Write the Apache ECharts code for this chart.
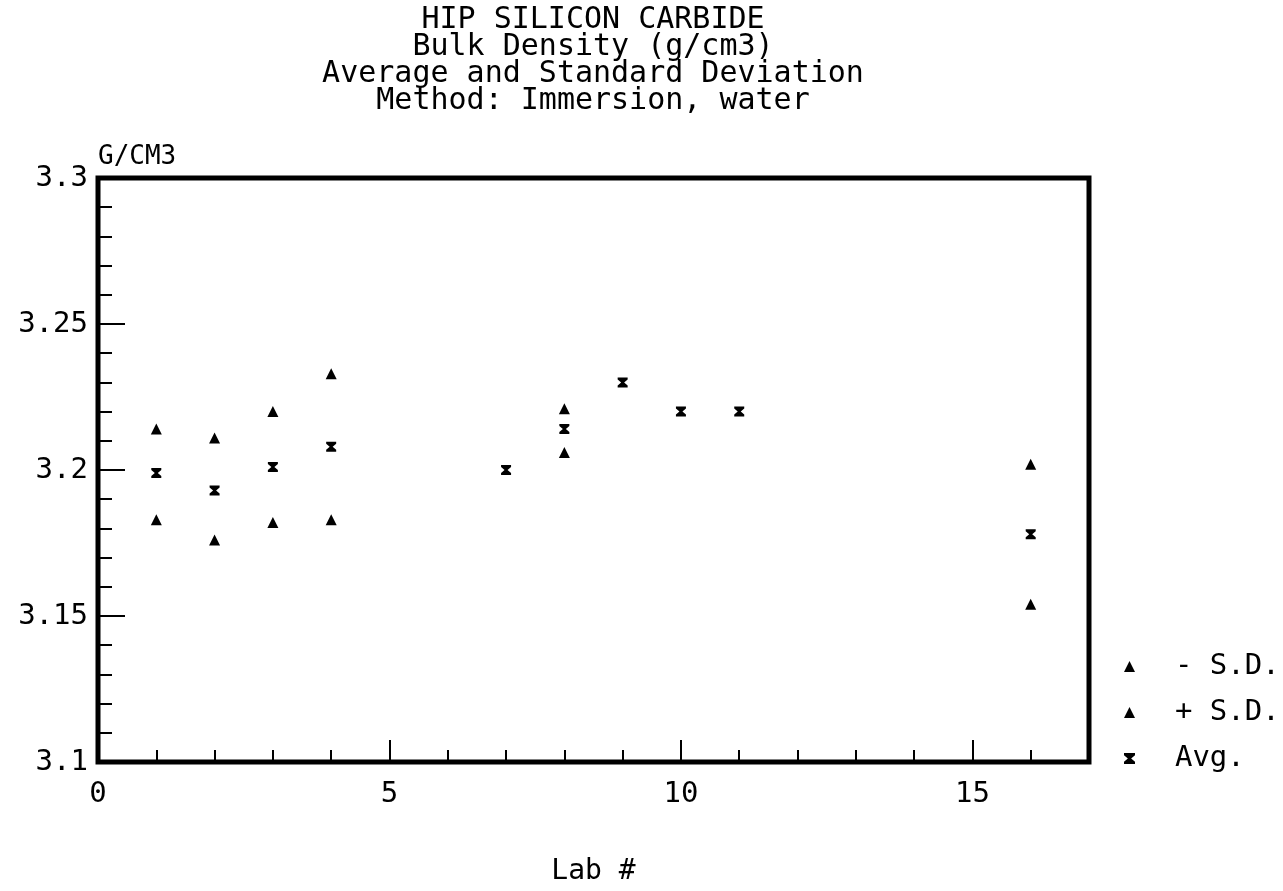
<!DOCTYPE html>
<html>
<head>
<meta charset="utf-8">
<script src="https://cdn.jsdelivr.net/npm/echarts@6/dist/echarts.min.js"></script>
<style>
  html, body { margin: 0; padding: 0; background: #fff; }
  #chart { width: 1283px; height: 891px; }
</style>
</head>
<body>
<div id="chart"></div>
<script>
// data
var labs = [1, 2, 3, 4, 7, 8, 9, 10, 11, 16];
var minusSD = [3.183, 3.176, 3.182, 3.183, null, 3.206, null, null, null, 3.154];
var plusSD = [3.214, 3.211, 3.220, 3.233, null, 3.221, null, null, null, 3.202];
var avg = [3.199, 3.193, 3.201, 3.208, 3.200, 3.214, 3.230, 3.220, 3.220, 3.178];
var seriesNames = ['- S.D.', '+ S.D.', 'Avg.'];
var titleLines = ['HIP SILICON CARBIDE', 'Bulk Density (g/cm3)', 'Average and Standard Deviation', 'Method: Immersion, water'];

var FONT = '"DejaVu Sans Mono", "Liberation Mono", monospace';
var hourglass = 'path://M0,0 L10,0 L10,2 L6.5,5 L10,8 L10,10 L0,10 L0,8 L3.5,5 L0,2 Z';

function pairs(ys) {
  var out = [];
  labs.forEach(function (x, i) {
    if (ys[i] != null) out.push([x, ys[i]]);
  });
  return out;
}

var chart = echarts.init(document.getElementById('chart'), null, { renderer: 'canvas' });

var option = {
  backgroundColor: '#fff',
  animation: false,
  graphic: [{
    type: 'text',
    x: 593,
    y: 7,
    style: {
      text: titleLines.join('\n'),
      font: '30px ' + FONT,
      fill: '#000',
      textAlign: 'center',
      lineHeight: 27
    }
  }],
  grid: {
    left: 98, right: 194, top: 178, bottom: 121,
    show: true,
    borderColor: '#000',
    borderWidth: 5,
    backgroundColor: '#fff'
  },
  legend: {
    orient: 'vertical',
    left: 1119,
    top: 647,
    itemWidth: 11,
    itemHeight: 11,
    itemGap: 17,
    data: seriesNames,
    formatter: function (n) { return '  ' + n; },
    textStyle: { fontFamily: FONT, fontSize: 29, color: '#000' }
  },
  xAxis: [{
    type: 'value',
    min: 0, max: 17, interval: 1,
    name: 'Lab #',
    nameLocation: 'middle',
    nameGap: 96,
    nameTextStyle: { fontFamily: FONT, fontSize: 28, color: '#000' },
    axisLine: { show: false },
    axisTick: { show: true, inside: true, length: 12, lineStyle: { color: '#000', width: 2 } },
    axisLabel: {
      margin: 18,
      fontFamily: FONT, fontSize: 29, color: '#000',
      formatter: function (v) { return v % 5 === 0 ? String(v) : ''; }
    },
    splitLine: { show: false }
  }, {
    type: 'value',
    position: 'bottom',
    min: 0, max: 17, interval: 5,
    axisLine: { show: false },
    axisTick: { show: true, inside: true, length: 22, customValues: [5, 10, 15], lineStyle: { color: '#000', width: 2 } },
    axisLabel: { show: false },
    splitLine: { show: false }
  }],
  yAxis: [{
    type: 'value',
    min: 3.1, max: 3.3, interval: 0.05,
    name: 'G/CM3',
    nameLocation: 'end',
    nameGap: 8,
    nameTextStyle: { fontFamily: FONT, fontSize: 26, color: '#000', align: 'left' },
    axisLine: { show: false },
    axisTick: { show: true, inside: true, length: 27, lineStyle: { color: '#000', width: 2 } },
    axisLabel: {
      margin: 10,
      fontFamily: FONT, fontSize: 29, color: '#000',
      formatter: function (v) { return String(+v.toFixed(2)); }
    },
    splitLine: { show: false }
  }, {
    type: 'value',
    position: 'left',
    min: 3.1, max: 3.3, interval: 0.01,
    axisLine: { show: false },
    axisTick: { show: true, inside: true, length: 14, lineStyle: { color: '#000', width: 2 } },
    axisLabel: { show: false },
    splitLine: { show: false }
  }],
  series: [{
    name: seriesNames[0],
    type: 'scatter',
    symbol: 'triangle',
    symbolSize: 11,
    itemStyle: { color: '#000', opacity: 1 },
    data: pairs(minusSD)
  }, {
    name: seriesNames[1],
    type: 'scatter',
    symbol: 'triangle',
    symbolSize: 11,
    itemStyle: { color: '#000', opacity: 1 },
    data: pairs(plusSD)
  }, {
    name: seriesNames[2],
    type: 'scatter',
    symbol: hourglass,
    symbolSize: 10,
    itemStyle: { color: '#000', opacity: 1 },
    data: pairs(avg)
  }]
};

chart.setOption(option);
</script>
</body>
</html>
